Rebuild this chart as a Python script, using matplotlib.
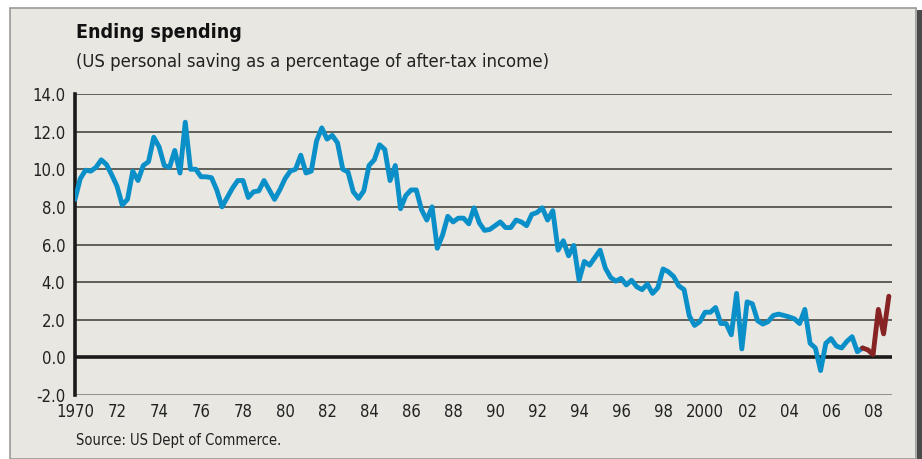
import numpy as np
import pandas as pd
import matplotlib
matplotlib.use("Agg")
import matplotlib.pyplot as plt
from matplotlib.patches import Rectangle

BG = "#e8e7e1"
BLUE = "#0a8fc8"
RED = "#872423"

# quarterly personal saving rate, 1970Q1 - 2008Q4
START_YEAR = 1970
saving = [
    8.4, 9.5, 9.95, 9.9, 10.1, 10.5, 10.25, 9.7, 9.1, 8.1,
    8.4, 9.9, 9.4, 10.2, 10.4, 11.7, 11.2, 10.2, 10.1, 11.0,
    9.8, 12.5, 10.0, 10.0, 9.6, 9.6, 9.55, 8.9, 8.0, 8.5,
    9.0, 9.4, 9.4, 8.5, 8.8, 8.85, 9.4, 8.9, 8.4, 8.9,
    9.5, 9.9, 10.0, 10.75, 9.8, 9.9, 11.5, 12.2, 11.6, 11.8,
    11.4, 10.0, 9.85, 8.8, 8.45, 8.85, 10.2, 10.5, 11.3, 11.05,
    9.4, 10.2, 7.9, 8.6, 8.9, 8.9, 7.85, 7.3, 8.0, 5.8,
    6.5, 7.5, 7.2, 7.4, 7.4, 7.1, 7.95, 7.15, 6.75, 6.8,
    7.0, 7.2, 6.9, 6.9, 7.3, 7.2, 7.0, 7.6, 7.7, 7.95,
    7.3, 7.8, 5.7, 6.2, 5.4, 5.95, 4.1, 5.1, 4.9, 5.3,
    5.7, 4.75, 4.25, 4.05, 4.2, 3.85, 4.1, 3.75, 3.6, 3.9,
    3.4, 3.7, 4.7, 4.55, 4.3, 3.8, 3.6, 2.2, 1.7, 1.9,
    2.4, 2.4, 2.65, 1.8, 1.8, 1.2, 3.4, 0.45, 2.95, 2.85,
    1.95, 1.77, 1.9, 2.23, 2.3, 2.23, 2.15, 2.05, 1.8, 2.55,
    0.75, 0.5, -0.7, 0.75, 1.0, 0.6, 0.5, 0.85, 1.1, 0.3,
    0.5, 0.4, 0.15, 2.55, 1.25, 3.25,
]
RED_FROM = 150  # latest (revised) quarters drawn in red

yticks = [-2.0, 0.0, 2.0, 4.0, 6.0, 8.0, 10.0, 12.0, 14.0]
xticks = [1970, 1972, 1974, 1976, 1978, 1980, 1982, 1984, 1986, 1988, 1990,
          1992, 1994, 1996, 1998, 2000, 2002, 2004, 2006, 2008]
xlabels = ["1970", "72", "74", "76", "78", "80", "82", "84", "86", "88", "90",
           "92", "94", "96", "98", "2000", "02", "04", "06", "08"]

df = pd.DataFrame({"rate": saving})
df["year"] = START_YEAR + df.index / 4.0

plt.rcParams["font.family"] = ["DejaVu Sans"]
plt.rcParams["font.stretch"] = "condensed"

fig = plt.figure(figsize=(9.22, 4.59), dpi=100, facecolor="white")

# panel background with border + shadow on the right
fig.patches.append(Rectangle((10 / 922, 0), 906 / 922, 1 - 8 / 459,
                             transform=fig.transFigure, facecolor=BG,
                             edgecolor="#9a9a96", linewidth=1.2, zorder=-2))
fig.patches.append(Rectangle((917 / 922, 0), 5 / 922, 1 - 10 / 459,
                             transform=fig.transFigure, facecolor="#4a4a4a",
                             edgecolor="none", zorder=-2))

ax = fig.add_axes([75 / 922, 1 - 395 / 459, (892 - 75) / 922, (395 - 94) / 459])
ax.set_facecolor("none")

for y in yticks:
    if y == 0:
        continue
    ax.axhline(y, color="#8a8a86" if y == -2.0 else "#55554f", lw=1.3, zorder=1)
ax.axhline(0, color="#1a1a1a", lw=2.6, zorder=2)

blue = df.iloc[:RED_FROM + 1]
red = df.iloc[RED_FROM:]
ax.plot(blue["year"], blue["rate"], color=BLUE, lw=3.5, solid_joinstyle="round",
        solid_capstyle="round", zorder=3)
ax.plot(red["year"], red["rate"], color=RED, lw=3.5, solid_joinstyle="round",
        solid_capstyle="round", zorder=4)

ax.set_xlim(1970, 2008.9)
ax.set_ylim(-2.0, 14.0)
ax.set_yticks(yticks)
ax.set_yticklabels([f"{v:.1f}" for v in yticks])
ax.set_xticks(xticks)
ax.set_xticklabels(xlabels)
ax.tick_params(axis="y", length=0, pad=7, labelsize=12, colors="#222222")
ax.tick_params(axis="x", length=0, pad=6, labelsize=12, colors="#222222")

for s in ["top", "right", "bottom"]:
    ax.spines[s].set_visible(False)
ax.spines["left"].set_color("#1a1a1a")
ax.spines["left"].set_linewidth(2.6)

fig.text(76 / 922, 1 - 33 / 459, "Ending spending", fontsize=14,
         fontweight="bold", color="#111111", va="center", ha="left")
fig.text(76 / 922, 1 - 62 / 459,
         "(US personal saving as a percentage of after-tax income)",
         fontsize=13.2, color="#222222", va="center", ha="left")
fig.text(76 / 922, 1 - 440 / 459, "Source: US Dept of Commerce.", fontsize=10.5,
         color="#222222", va="center", ha="left")

fig.savefig("out.png", dpi=100, facecolor="white")
